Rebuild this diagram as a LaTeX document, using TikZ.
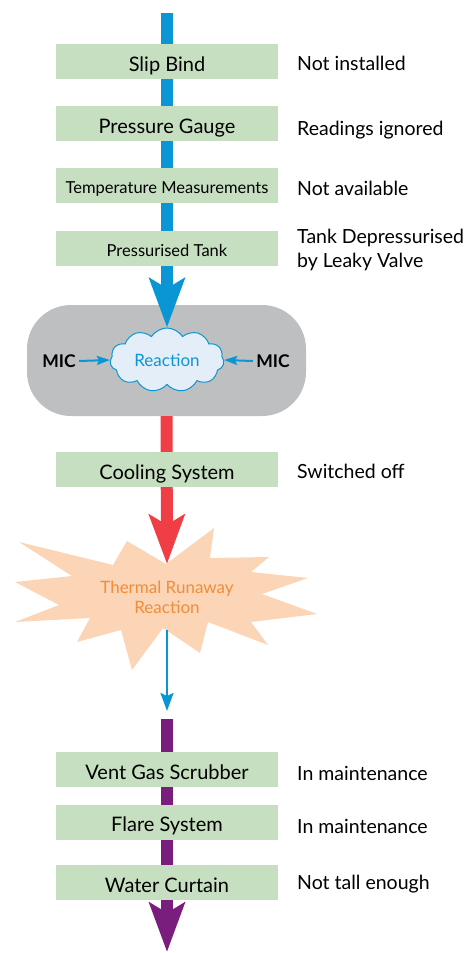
\documentclass[tikz,border=0pt]{standalone}
\usepackage{fontspec}
\setmainfont{Lato}
\usepackage{tikz}
\usetikzlibrary{arrows.meta,positioning,shapes.symbols,calc}

\definecolor{barblue}{HTML}{0A96D4}
\definecolor{barred}{HTML}{EF3E45}
\definecolor{barpurple}{HTML}{7A1E7D}
\definecolor{boxgreen}{HTML}{C7DFC1}
\definecolor{blobgray}{HTML}{BEBFC1}
\definecolor{cloudfill}{HTML}{E4EEF9}
\definecolor{burstfill}{HTML}{FBD5B5}
\definecolor{burstorange}{HTML}{F18D3A}

\begin{document}
\begin{tikzpicture}[
    x=1pt, y=-1pt,
    barrier/.style={rectangle, fill=boxgreen, minimum width=222pt, minimum height=35pt, inner sep=0pt,
                    text height=19pt, text depth=0pt, font=\fontsize{20}{22}\selectfont},
    smallbarrier/.style={barrier, text height=15pt, font=\fontsize{16.5}{19}\selectfont},
    note/.style={anchor=base west, align=left, inner sep=0pt, font=\fontsize{19.5}{24}\selectfont},
    bar/.style={line width=12pt, -{Stealth[length=49pt, width=35pt, inset=10pt]}},
    thin/.style={barblue, line width=2pt, -{Stealth[length=13pt, width=9pt, inset=2pt]}}
]
\useasboundingbox (0,0) rectangle (470,953);

% Reactor
\node[fill=blobgray, rounded corners=44pt, minimum width=279pt, minimum height=111pt] (vessel) at (166.5,360.5) {};
\node[cloud, cloud puffs=11, cloud puff arc=115, aspect=1.8, draw=barblue, fill=cloudfill, line width=1pt,
      minimum width=114pt, minimum height=64pt, inner sep=0pt, text=barblue, font=\fontsize{17}{20}\selectfont] (cloud) at (167,360) {Reaction};
\node[font=\fontsize{17.5}{20}\selectfont\bfseries] (micL) at (59,361) {MIC};
\node[font=\fontsize{17.5}{20}\selectfont\bfseries] (micR) at (273,361) {MIC};
\draw[thin] (micL.east) -- (cloud.west);
\draw[thin] (micR.west) -- (cloud.east);

% Runaway burst
\fill[burstfill] (214,528) -- (210,558) -- (269,557) -- (251,572) -- (308,578) -- (262,594)
    -- (317,614) -- (251,622) -- (268,645) -- (208,622) -- (200,653) -- (163,628)
    -- (132,670) -- (121,630) -- (77,642) -- (90,618) -- (15,622) -- (59,605)
    -- (15,582) -- (72,576) -- (19,542) -- (113,565) -- (127,541) -- (166,564) -- cycle;
\node[align=center, text=burstorange, font=\fontsize{17}{20}\selectfont] (runaway) at (167,597) {Thermal Runaway\\Reaction};

% Flow
\coordinate (feed) at (167,13);
\coordinate (hit) at (167,564);
\coordinate (burstout) at (167,630);
\coordinate (burstend) at (167,711);
\coordinate (release) at (167,719);
\coordinate (outlet) at (167,952);
\draw[bar, barblue] (feed) -- (cloud.north);
\draw[bar, barred] (vessel.south) -- (hit);
\draw[thin, -{Stealth[length=18pt, width=13pt, inset=3pt]}] (burstout) -- (burstend);
\draw[bar, barpurple] (release) -- (outlet);

% Barriers
\node[barrier] (slip) at (167,61.5) {Slip Bind};
\node[barrier] (gauge) at (167,123.5) {Pressure Gauge};
\node[smallbarrier] (temp) at (167,185.5) {Temperature Measurements};
\node[smallbarrier] (tank) at (167,248.5) {Pressurised Tank};
\node[barrier] (cooling) at (167,469.5) {Cooling System};
\node[barrier] (scrubber) at (167,769.5) {Vent Gas Scrubber};
\node[barrier] (flare) at (167,822) {Flare System};
\node[barrier] (curtain) at (167,882.5) {Water Curtain};

% Failures
\node[note] at (297,70) {Not installed};
\node[note] at (297,135) {Readings ignored};
\node[note] at (297,195) {Not available};
\node[note] at (297,267) {Tank Depressurised\\by Leaky Valve};
\node[note] at (297,478) {Switched off};
\node[note] at (297,780) {In maintenance};
\node[note] at (297,833) {In maintenance};
\node[note] at (297,889) {Not tall enough};
\end{tikzpicture}
\end{document}
